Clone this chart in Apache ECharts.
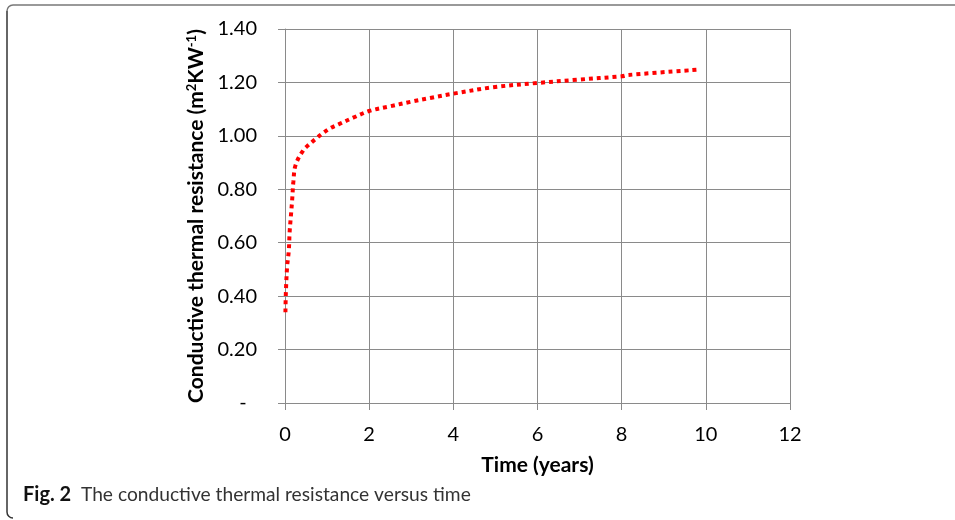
<!DOCTYPE html>
<html>
<head>
<meta charset="utf-8">
<script src="https://cdn.jsdelivr.net/npm/echarts@6/dist/echarts.min.js"></script>
<style>
  html, body { margin: 0; padding: 0; background: #fff; }
  #chart { width: 955px; height: 520px; }
</style>
</head>
<body>
<div id="chart"></div>
<script>
// values
var timeYears = [0.01, 0.02, 0.05, 0.09, 0.11, 0.14, 0.17, 0.20, 0.25, 0.43, 0.59, 0.74, 0.90, 1.07, 1.27, 1.62, 2.0, 2.48, 3.0, 3.45, 4.0, 4.95, 6.0, 6.93, 8.0, 8.16, 9.85];
var resistance = [0.34, 0.41, 0.51, 0.57, 0.64, 0.70, 0.76, 0.83, 0.89, 0.945, 0.97, 0.99, 1.01, 1.028, 1.043, 1.068, 1.093, 1.110, 1.128, 1.142, 1.158, 1.182, 1.198, 1.210, 1.223, 1.228, 1.248];
var yTicks = [0, 0.2, 0.4, 0.6, 0.8, 1.0, 1.2, 1.4];
var xTicks = [0, 2, 4, 6, 8, 10, 12];
var captionBold = 'Fig. 2';
var captionText = 'The conductive thermal resistance versus time';

var chartDom = document.getElementById('chart');
var myChart = echarts.init(chartDom);

var seriesData = timeYears.map(function (t, i) {
    return [t, resistance[i]];
});

var gridColor = '#8a8a8a';
var frameColor = '#777';
var font = 'Lato';

var option = {
    backgroundColor: '#fff',
    animation: false,
    grid: { left: 285, right: 165, top: 29, bottom: 117 },
    xAxis: {
        type: 'value',
        min: xTicks[0],
        max: xTicks[xTicks.length - 1],
        interval: 2,
        name: 'Time (years)',
        nameLocation: 'middle',
        nameGap: 52,
        nameTextStyle: { fontFamily: font, fontWeight: 'bold', fontSize: 21, color: '#000' },
        axisLine: { lineStyle: { color: gridColor, width: 1 } },
        axisTick: { show: true, length: 7, lineStyle: { color: gridColor } },
        axisLabel: { margin: 22, fontFamily: font, fontSize: 20, color: '#000' },
        splitLine: { show: true, lineStyle: { color: gridColor, width: 1 } }
    },
    yAxis: {
        type: 'value',
        min: yTicks[0],
        max: yTicks[yTicks.length - 1],
        interval: 0.2,
        name: '{b|Conductive thermal resistance (m}{s|2}{b|KW}{s|-1}{b|)}',
        nameLocation: 'middle',
        nameGap: 78,
        nameTextStyle: {
            rich: {
                b: { fontFamily: font, fontWeight: 'bold', fontSize: 21, color: '#000' },
                s: { fontFamily: font, fontWeight: 'bold', fontSize: 13, color: '#000', verticalAlign: 'top' }
            }
        },
        axisLine: { show: true, lineStyle: { color: gridColor, width: 1 } },
        axisTick: { show: true, length: 7, lineStyle: { color: gridColor } },
        axisLabel: {
            margin: 28,
            fontFamily: font,
            fontSize: 20,
            color: '#000',
            formatter: function (v) {
                return v === 0 ? '-  ' : v.toFixed(2);
            }
        },
        splitLine: { show: true, lineStyle: { color: gridColor, width: 1 } }
    },
    series: [
        {
            type: 'line',
            data: seriesData,
            smooth: 0.35,
            showSymbol: false,
            lineStyle: { color: '#ff0000', width: 4, type: 'dotted', cap: 'butt' }
        }
    ],
    graphic: [
        // figure frame: top rule and left rule with rounded corners
        {
            type: 'line',
            shape: { x1: 13, y1: 5, x2: 955, y2: 5 },
            style: { stroke: frameColor, lineWidth: 1.5 }
        },
        {
            type: 'line',
            shape: { x1: 7, y1: 11, x2: 7, y2: 512 },
            style: { stroke: '#333', lineWidth: 1.5 }
        },
        {
            type: 'arc',
            shape: { cx: 13, cy: 11, r: 6, startAngle: Math.PI, endAngle: Math.PI * 1.5 },
            style: { stroke: frameColor, lineWidth: 1.5, fill: null }
        },
        {
            type: 'arc',
            shape: { cx: 13, cy: 512, r: 6, startAngle: Math.PI * 0.5, endAngle: Math.PI },
            style: { stroke: '#333', lineWidth: 1.5, fill: null }
        },
        {
            type: 'text',
            left: 23,
            top: 485,
            style: {
                text: '{b|' + captionBold + '}{r|  ' + captionText + '}',
                rich: {
                    b: { fontFamily: font, fontWeight: 'bold', fontSize: 20, fill: '#111' },
                    r: { fontFamily: font, fontSize: 19.2, fill: '#333' }
                }
            }
        }
    ]
};

myChart.setOption(option);
</script>
</body>
</html>
